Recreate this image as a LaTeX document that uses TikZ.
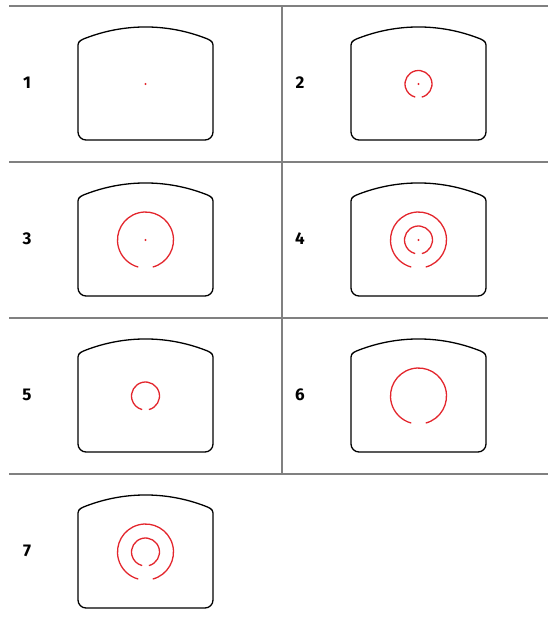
\documentclass[tikz,border=0pt]{standalone}
\usepackage{fontspec}
\setmainfont{Fira Sans}
\definecolor{gridgray}{HTML}{808080}
\definecolor{reticlered}{HTML}{E3262D}

\tikzset{
  gridline/.style={draw=gridgray, line width=1.7pt},
  screenline/.style={draw=black, line width=1.3pt},
  reticle/.style={draw=reticlered, line width=1.3pt},
  number/.style={font=\fontsize{17}{17}\selectfont\bfseries, inner sep=0pt},
  screen/.pic={
    \draw[screenline] (-67.5,39) -- (-67.5,-48)
      arc[start angle=180, end angle=270, radius=8] -- (59.5,-56)
      arc[start angle=270, end angle=360, radius=8] -- (67.5,39)
      .. controls (67.5,43) and (63.2,44.6) .. (59.5,46)
      .. controls (21,60.7) and (-21,60.7) .. (-59.5,46)
      .. controls (-63.2,44.6) and (-67.5,43) .. cycle;
  }
}
% ring with a gap at the bottom: centre, radius, half gap angle
\newcommand{\gapring}[3]{%
  \draw[reticle] (#1) ++(-90+#3:#2)
    arc[start angle=-90+#3, end angle=270-#3, radius=#2];}
\newcommand{\centredot}[1]{\fill[reticlered] (#1) circle[radius=1.1];}

\begin{document}
\begin{tikzpicture}[x=1pt, y=1pt]
  \useasboundingbox (0,0) rectangle (548,-628);

  % grid
  \foreach \y in {-6,-162,-318,-474}
    \draw[gridline] (9,\y) -- (548,\y);
  \draw[gridline] (282,-6) -- (282,-474);

  % screen centres
  \coordinate (c1) at (145.5,-84);
  \coordinate (c2) at (418.5,-84);
  \coordinate (c3) at (145.5,-240);
  \coordinate (c4) at (418.5,-240);
  \coordinate (c5) at (145.5,-396);
  \coordinate (c6) at (418.5,-396);
  \coordinate (c7) at (145.5,-552);

  % numbers
  \node[number] (n1) at (27,-83) {1};
  \node[number] (n2) at (300,-83) {2};
  \node[number] (n3) at (27,-239) {3};
  \node[number] (n4) at (300,-239) {4};
  \node[number] (n5) at (27,-395) {5};
  \node[number] (n6) at (300,-395) {6};
  \node[number] (n7) at (27,-551) {7};

  % screens
  \foreach \c in {c1,c2,c3,c4,c5,c6,c7}
    \pic at (\c) {screen};

  % reticles
  \centredot{c1}
  \gapring{c2}{13.5}{14} \centredot{c2}
  \gapring{c3}{28}{15} \centredot{c3}
  \gapring{c4}{28}{15} \gapring{c4}{14}{14} \centredot{c4}
  \gapring{c5}{14}{14}
  \gapring{c6}{28}{15}
  \gapring{c7}{28}{15} \gapring{c7}{14}{14}
\end{tikzpicture}
\end{document}
